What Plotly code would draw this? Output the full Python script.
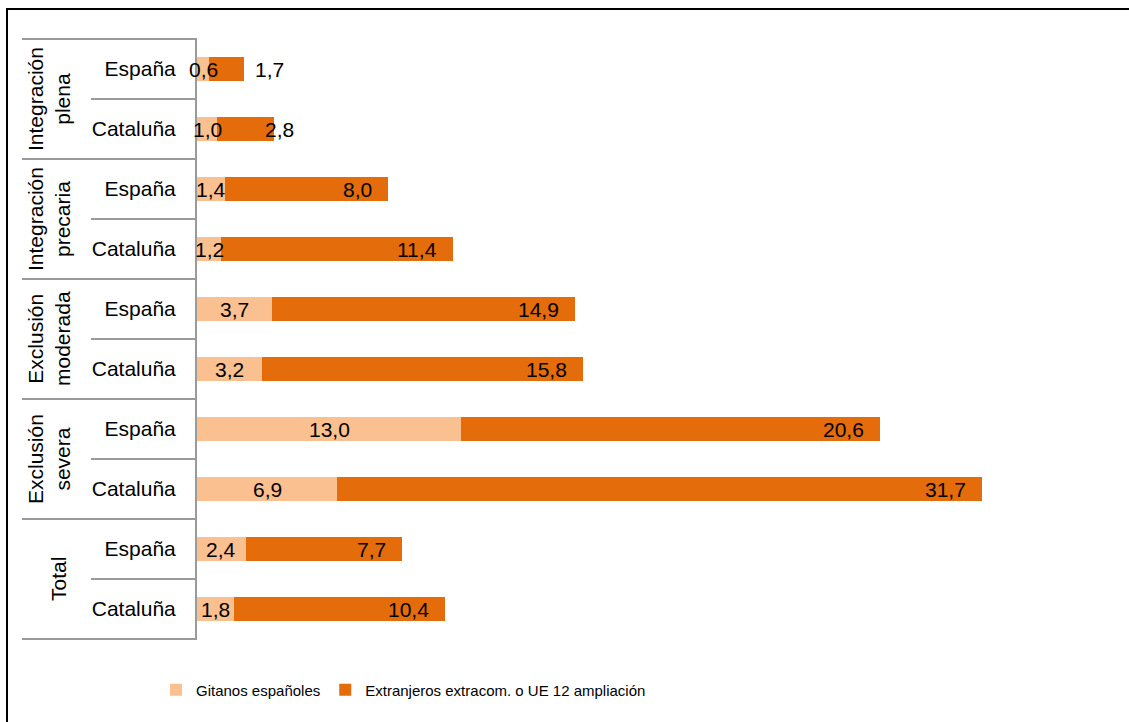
import plotly.graph_objects as go

# ---------------- data ----------------
groups = ["Integración<br>plena", "Integración<br>precaria", "Exclusión<br>moderada",
          "Exclusión<br>severa", "Total"]
regions = ["España", "Cataluña"]
gitanos = [0.6, 1.0, 1.4, 1.2, 3.7, 3.2, 13.0, 6.9, 2.4, 1.8]
extranjeros = [1.7, 2.8, 8.0, 11.4, 14.9, 15.8, 20.6, 31.7, 7.7, 10.4]
series_names = ["Gitanos españoles", "Extranjeros extracom. o UE 12 ampliación"]

# ---------------- styles ----------------
W, H = 1129, 722
ML, MR, MT, MB = 197, 119, 38, 82
PW, PH = W - ML - MR, H - MT - MB
C_LIGHT = "#FAC090"
C_DARK = "#E46C0A"
FONT = "Liberation Sans, Arial, sans-serif"
GRID = "#9A9A9A"
dark_label_shift = [42, 22, -14, -14, -14, -14, -14, -14, -14, -14]


def px_x(p):
    return (p - ML) / PW


def px_y(p):
    return (H - MB - p) / PH


def fmt(v):
    return f"{v:.1f}".replace(".", ",")


cats = [f"{g.replace('<br>', ' ')} – {r}" for g in groups for r in regions]
tick_text = [r for g in groups for r in regions]

fig = go.Figure()
fig.add_trace(go.Bar(
    y=cats, x=gitanos, orientation="h", name=series_names[0],
    marker=dict(color=C_LIGHT, line=dict(width=0)), cliponaxis=False,
))
fig.add_trace(go.Bar(
    y=cats, x=extranjeros, orientation="h", name=series_names[1],
    marker=dict(color=C_DARK, line=dict(width=0)), cliponaxis=False,
))

annotations = []
for i, c in enumerate(cats):
    # light series label: centred in its segment
    annotations.append(dict(
        x=gitanos[i] / 2, y=c, xref="x", yref="y",
        text=fmt(gitanos[i]), showarrow=False, xanchor="center",
        font=dict(family=FONT, size=21, color="black"),
    ))
    # dark series label: inside end
    annotations.append(dict(
        x=gitanos[i] + extranjeros[i], y=c, xref="x", yref="y",
        text=fmt(extranjeros[i]), showarrow=False, xanchor="right",
        xshift=dark_label_shift[i],
        font=dict(family=FONT, size=21, color="black"),
    ))

# group labels (rotated)
for gi, g in enumerate(groups):
    two = "<br>" in g
    annotations.append(dict(
        x=px_x(49 if two else 58), y=2 * gi + 0.5, xref="paper", yref="y",
        text=g, showarrow=False, textangle=-90, xanchor="center", yanchor="middle",
        font=dict(family=FONT, size=21, color="black"),
    ))

shapes = []
# top line
shapes.append(dict(type="line", xref="paper", yref="y", x0=px_x(22), x1=0,
                   y0=-0.5, y1=-0.5, line=dict(color=GRID, width=2)))
for k in range(len(cats)):
    left = px_x(22) if k % 2 == 1 else px_x(91)
    shapes.append(dict(type="line", xref="paper", yref="y", x0=left, x1=0,
                       y0=k + 0.5, y1=k + 0.5, line=dict(color=GRID, width=2)))
# outer frame
shapes.append(dict(type="rect", xref="paper", yref="paper",
                   x0=px_x(7), x1=px_x(W + 10), y0=px_y(9), y1=px_y(H + 10),
                   line=dict(color="black", width=2), fillcolor="rgba(0,0,0,0)", layer="above"))

fig.update_layout(
    width=W, height=H,
    margin=dict(l=ML, r=MR, t=MT, b=MB),
    barmode="stack", bargap=0.6,
    plot_bgcolor="white", paper_bgcolor="white",
    font=dict(family=FONT, size=21, color="black"),
    xaxis=dict(range=[0, 40], showticklabels=False, showgrid=False, zeroline=False,
               showline=False, ticks=""),
    yaxis=dict(type="category", categoryorder="array", categoryarray=cats,
               autorange="reversed", tickmode="array", tickvals=cats, ticktext=tick_text,
               showline=True, linecolor=GRID, linewidth=2, showgrid=False, ticks="",
               ticklabelstandoff=15, tickfont=dict(family=FONT, size=21, color="black")),
    legend=dict(orientation="h", x=px_x(156), xanchor="left", y=px_y(690), yanchor="middle",
                font=dict(family=FONT, size=15, color="black"),
                itemwidth=30, traceorder="normal", bgcolor="rgba(0,0,0,0)"),
    annotations=annotations, shapes=shapes,
    showlegend=True,
)

fig.write_html(
    "out.html",
    config={"displayModeBar": False},
    post_script="document.body.style.margin='0';document.body.style.overflow='hidden';",
)
